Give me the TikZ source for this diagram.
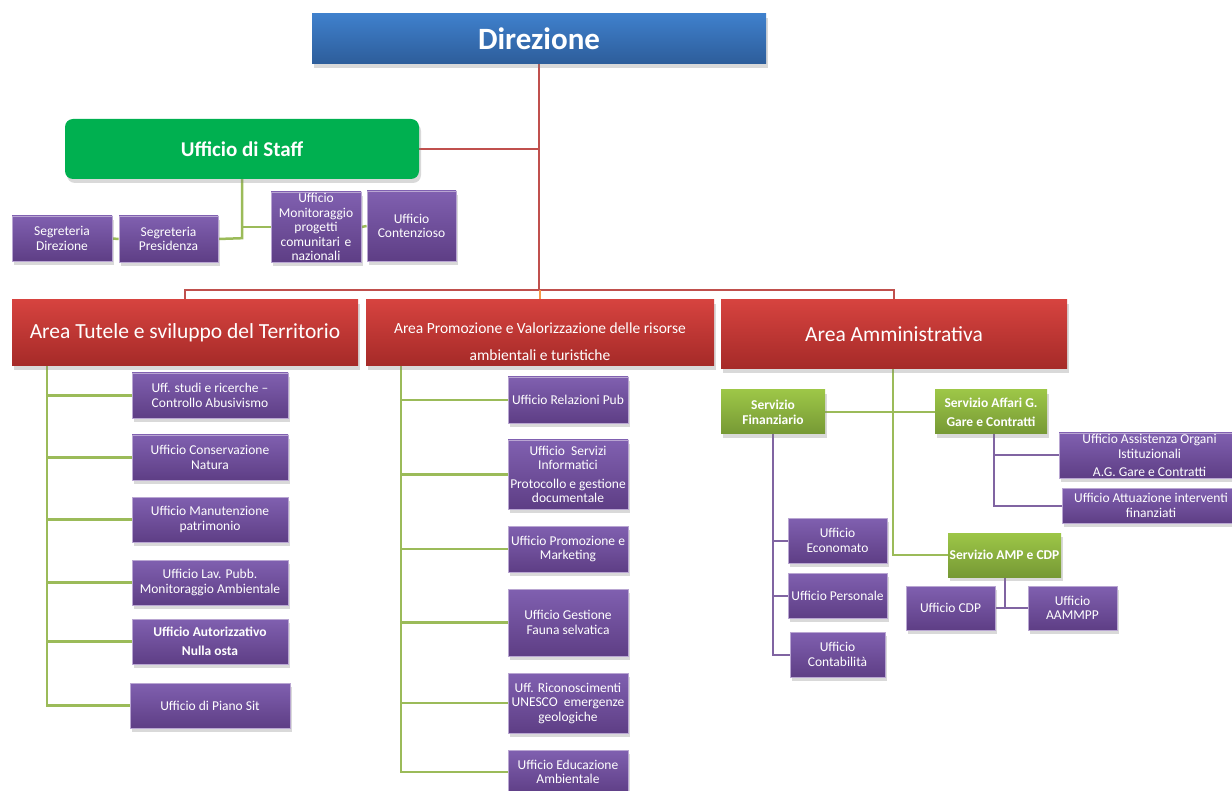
\documentclass[tikz,border=0pt]{standalone}
\usepackage{fontspec}
\setmainfont{Carlito}
\usetikzlibrary{shadows,backgrounds}

% colori
\definecolor{violaA}{HTML}{8060B0}
\definecolor{violaB}{HTML}{5E3E85}
\definecolor{violaBordo}{HTML}{B9A6D2}
\definecolor{rossoA}{HTML}{D6433F}
\definecolor{rossoB}{HTML}{A52A28}
\definecolor{bluA}{HTML}{3F80CC}
\definecolor{bluB}{HTML}{2D5D9A}
\definecolor{servA}{HTML}{9DC647}
\definecolor{servB}{HTML}{769935}
\definecolor{staffverde}{HTML}{00B050}
\definecolor{lineaRossa}{HTML}{C0504D}
\definecolor{lineaVerde}{HTML}{9BBB59}
\definecolor{lineaViola}{HTML}{8064A2}
\definecolor{lineaArancio}{HTML}{F79646}

\tikzset{
  ombra/.style={drop shadow={opacity=0.3, shadow xshift=2pt, shadow yshift=-4pt}},
  box/.style={ombra, text=white, align=center, inner sep=1pt},
  ufficio/.style={box, draw=violaBordo, line width=0.8pt, top color=violaA, bottom color=violaB,
    font=\fontsize{13.5}{14.5}\selectfont},
  servizio/.style={box, top color=servA, bottom color=servB, font=\bfseries\fontsize{13.5}{15}\selectfont},
  area/.style={box, top color=rossoA, bottom color=rossoB, minimum height=66},
  rosso/.style={draw=lineaRossa, line width=2pt},
  verde/.style={draw=lineaVerde, line width=2.5pt},
  viola/.style={draw=lineaViola, line width=2pt}
}

\begin{document}
\begin{tikzpicture}[x=1pt, y=-1pt]

    \useasboundingbox (0,0) rectangle (1232,791);

    % vertice
    \node[box, top color=bluA, bottom color=bluB, minimum width=454, minimum height=50,
      font=\bfseries\fontsize{31}{34}\selectfont] (dir) at (539,39) {Direzione};
    \node[box, fill=staffverde, rounded corners=8pt, minimum width=354, minimum height=60,
      font=\bfseries\fontsize{21}{24}\selectfont] (staff) at (242,149) {Ufficio di Staff};

    % uffici di staff
    \node[ufficio, minimum width=100, minimum height=45] (segdir) at (62,238.5) {Segreteria\\Direzione};
    \node[ufficio, minimum width=99, minimum height=46] (presid) at (168.5,239) {Segreteria\\Presidenza};
    \node[ufficio, minimum width=90, minimum height=70, text width=88] (monit) at (316,227)
      {Ufficio\\Monitoraggio\\progetti\\comunitari e\\nazionali};
    \node[ufficio, minimum width=89, minimum height=70] (contenz) at (411.5,226) {Ufficio\\Contenzioso};

    % aree
    \node[area, minimum width=346, font=\fontsize{21.5}{24}\selectfont] (tutele) at (185,333)
      {Area Tutele e sviluppo del Territorio};
    \node[area, minimum width=348, font=\fontsize{15.5}{27}\selectfont] (prom) at (540,333)
      {\rule{0pt}{28pt}Area Promozione e Valorizzazione delle risorse\\ambientali e turistiche};
    \node[area, minimum width=346, minimum height=69, font=\fontsize{21.5}{24}\selectfont] (amm) at (894,334.5)
      {Area Amministrativa};

    % 1. uffici Area Tutele
    \node[ufficio, minimum width=156, minimum height=45] (studi) at (210,395.5) {Uff. studi e ricerche --\\Controllo Abusivismo};
    \node[ufficio, minimum width=156, minimum height=45] (conserv) at (210,457.5) {Ufficio Conservazione\\Natura};
    \node[ufficio, minimum width=156, minimum height=45] (manut) at (210,519.5) {Ufficio Manutenzione\\patrimonio};
    \node[ufficio, minimum width=156, minimum height=45] (lavpubb) at (210,582.5) {Ufficio Lav. Pubb.\\Monitoraggio Ambientale};
    \node[ufficio, minimum width=156, minimum height=45, font=\bfseries\fontsize{13.5}{14.5}\selectfont] (autoriz) at (210,641.5)
      {Ufficio Autorizzativo\\[5pt]Nulla osta};
    \node[ufficio, minimum width=160, minimum height=45] (piano) at (210,705.5) {Ufficio di Piano Sit};

    % 2. uffici Area Promozione
    \node[ufficio, minimum width=120, minimum height=46] (relaz) at (568,400) {Ufficio Relazioni Pub};
    \node[ufficio, minimum width=120, minimum height=69] (inform) at (568,474.5)
      {Ufficio\ \ Servizi\\Informatici\\[4pt]Protocollo e gestione\\documentale};
    \node[ufficio, minimum width=120, minimum height=46] (promoz) at (568,549) {Ufficio Promozione e\\Marketing};
    \node[ufficio, minimum width=120, minimum height=67] (fauna) at (568,622.5) {Ufficio Gestione\\Fauna selvatica};
    \node[ufficio, minimum width=120, minimum height=60] (unesco) at (568,703) {Uff. Riconoscimenti\\UNESCO\ \ emergenze\\geologiche};
    \node[ufficio, minimum width=120, minimum height=44] (educ) at (568,772) {Ufficio Educazione\\Ambientale};

    % 3. servizi Area Amministrativa
    \node[servizio, minimum width=104, minimum height=44] (fin) at (773,412) {Servizio\\Finanziario};
    \node[servizio, minimum width=112, minimum height=44] (affari) at (991,412) {Servizio Affari G.\\[4pt]Gare e Contratti};
    \node[servizio, minimum width=113, minimum height=44] (amp) at (1004.5,555) {Servizio AMP e CDP};

    \node[ufficio, minimum width=181, minimum height=45, inner sep=0pt] (assist) at (1149.5,455.5)
      {Ufficio Assistenza Organi\\Istituzionali\\[4pt]A.G. Gare e Contratti};
    \node[ufficio, minimum width=178, minimum height=35, inner sep=0pt] (attuaz) at (1151,505.5)
      {Ufficio Attuazione interventi\\finanziati};

    \node[ufficio, minimum width=99, minimum height=45] (econ) at (837.5,540.5) {Ufficio\\Economato};
    \node[ufficio, minimum width=99, minimum height=45] (pers) at (837.5,595.5) {Ufficio Personale};
    \node[ufficio, minimum width=95, minimum height=45] (contab) at (837.5,654.5) {Ufficio\\Contabilità};

    \node[ufficio, minimum width=89, minimum height=44] (cdp) at (950.5,608) {Ufficio CDP};
    \node[ufficio, minimum width=89, minimum height=44] (aammpp) at (1072.5,608) {Ufficio\\AAMMPP};

    \begin{scope}[on background layer]
    % collegamenti principali
    \coordinate (bar) at ([yshift=-226pt]dir.south);
    \draw[rosso] (dir.south) -- (bar);
    \draw[rosso] (staff.east) -- (staff.east -| dir.south);
    \draw[rosso] (tutele.north) |- (bar) -| (amm.north);
    \draw[draw=lineaArancio, line width=2pt] (prom.north) -- (prom.north |- bar);

    % staff
    \coordinate (sj) at ([yshift=-59pt]staff.south);
    \draw[verde] (staff.south) -- (sj) -- (presid.east);
    \draw[verde] (staff.south) |- (monit.west);
    \draw[verde] (segdir.east) -- (presid.west);
    \draw[verde] (monit.east) -- (contenz.west);

    % colonne delle aree
    \coordinate (tl) at ([xshift=35pt]tutele.south west);
    \foreach \u in {studi, conserv, manut, lavpubb, autoriz, piano} {
        \draw[verde] (tl) |- (\u.west);
    }
    \coordinate (pl) at ([xshift=35pt]prom.south west);
    \foreach \u in {relaz, inform, promoz, fauna, unesco, educ} {
        \draw[verde] (pl) |- (\u.west);
    }
    \draw[verde] ([xshift=-1pt]amm.south) |- (amp.west);
    \draw[verde] (fin.east) -- (affari.west);

    % servizi
    \foreach \u in {econ, pers, contab} {
        \draw[viola] (fin.south) |- (\u.west);
    }
    \draw[viola] ([xshift=3pt]affari.south) |- (assist.west);
    \draw[viola] ([xshift=3pt]affari.south) |- (attuaz.west);
    \draw[viola] (amp.south) |- (cdp.east);
    \draw[viola] (amp.south) |- (aammpp.west);
    \end{scope}
\end{tikzpicture}
\end{document}
